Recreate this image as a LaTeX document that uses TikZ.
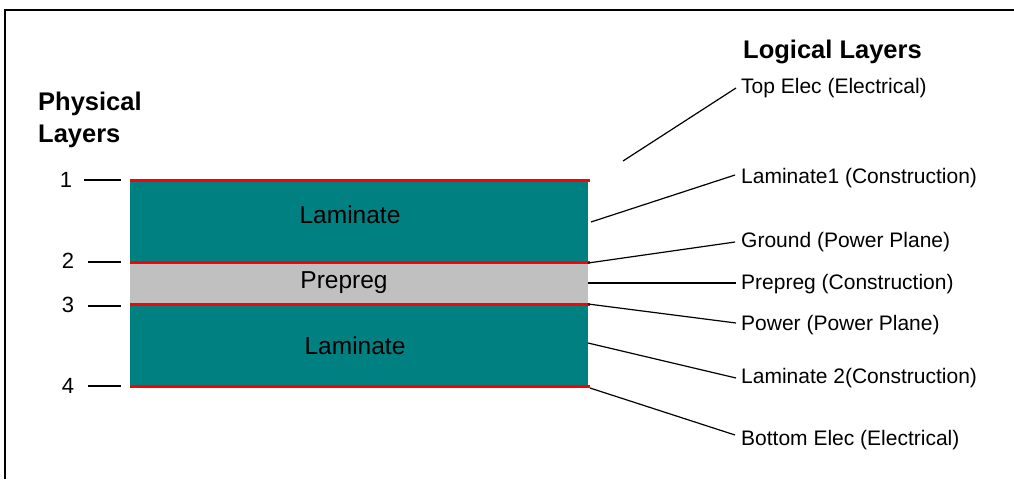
\documentclass[tikz,border=0pt]{standalone}
\usepackage{fontspec}
\setmainfont{Liberation Sans}
\definecolor{teal}{HTML}{008080}
\definecolor{pgrey}{HTML}{C0C0C0}
\definecolor{pred}{HTML}{FF0000}
\begin{document}
\begin{tikzpicture}[x=1pt,y=-1pt,
  lbl/.style={anchor=base west,inner sep=0pt,font=\fontsize{21}{25}\selectfont},
  hdr/.style={anchor=base west,inner sep=0pt,font=\fontsize{25.5}{30}\selectfont\bfseries},
  num/.style={anchor=base,inner sep=0pt,font=\fontsize{22}{26}\selectfont},
  inlbl/.style={font=\fontsize{24.5}{28}\selectfont},
  leader/.style={draw=black,line width=1.2pt},
  tick/.style={draw=black,line width=1.3pt},
  redline/.style={draw=pred,line width=3pt},
  layer/.style={draw=none,inner sep=0pt,minimum width=458pt}]
\useasboundingbox (0,0) rectangle (1014,479);
% frame
\draw[line width=2pt] (5,479) -- (5,10) -- (1014,10);
% headers
\node[hdr] (logical) at (743,58) {Logical Layers};
\node[hdr] (phys1) at (38,110) {Physical};
\node[hdr] (phys2) at (38,142) {Layers};
% layers
\node[layer,fill=teal,minimum height=82pt] (lam1) at (359,221) {};
\node[layer,fill=pgrey,minimum height=42pt] (prep) at (359,283) {};
\node[layer,fill=teal,minimum height=82pt] (lam2) at (359,345) {};
\node[inlbl] at (350,215) {Laminate};
\node[inlbl] at (344,283) {Prepreg};
\node[inlbl] at (355,346) {Laminate};
% red copper lines
\draw[redline] (130,180) -- (590,180);
\draw[redline] (130,262) -- (590,262);
\draw[redline] (130,304) -- (590,304);
\draw[redline] (130,386) -- (590,386);
% numbers and ticks
\node[num] (n1) at (66,187) {1};
\node[num] (n2) at (68,268) {2};
\node[num] (n3) at (68,312) {3};
\node[num] (n4) at (68,393) {4};
\draw[tick] (84,180) -- (121,180);
\draw[tick] (88,262) -- (121,262);
\draw[tick] (88,306) -- (121,306);
\draw[tick] (88,386) -- (121,386);
% right labels
\node[lbl] (te) at (741,93) {Top Elec (Electrical)};
\node[lbl] (l1) at (741,183) {Laminate1 (Construction)};
\node[lbl] (gnd) at (741,247) {Ground (Power Plane)};
\node[lbl] (pp) at (741,289) {Prepreg (Construction)};
\node[lbl] (pw) at (741,330) {Power (Power Plane)};
\node[lbl] (l2) at (741,383) {Laminate 2(Construction)};
\node[lbl] (be) at (741,445) {Bottom Elec (Electrical)};
% leader start points
\coordinate (cte) at (623,161);
\coordinate (cl1) at (591,222);
\coordinate (cgnd) at (588,263);
\coordinate (cpp) at (588,283);
\coordinate (cpw) at (588,304);
\coordinate (cl2) at (588,343);
\coordinate (cbe) at (590,388);
% leaders
\draw[leader] (cte) -- ([xshift=-5pt,yshift=5pt]te.base west);
\draw[leader] (cl1) -- ([xshift=-6pt,yshift=8pt]l1.base west);
\draw[leader] (cgnd) -- ([xshift=-6pt,yshift=5pt]gnd.base west);
\draw[leader] (cpp) -- ([xshift=-5pt,yshift=6pt]pp.base west);
\draw[leader] (cpw) -- ([xshift=-5pt,yshift=7pt]pw.base west);
\draw[leader] (cl2) -- ([xshift=-5pt,yshift=5pt]l2.base west);
\draw[leader] (cbe) -- ([xshift=-6pt,yshift=10pt]be.base west);
\end{tikzpicture}
\end{document}
